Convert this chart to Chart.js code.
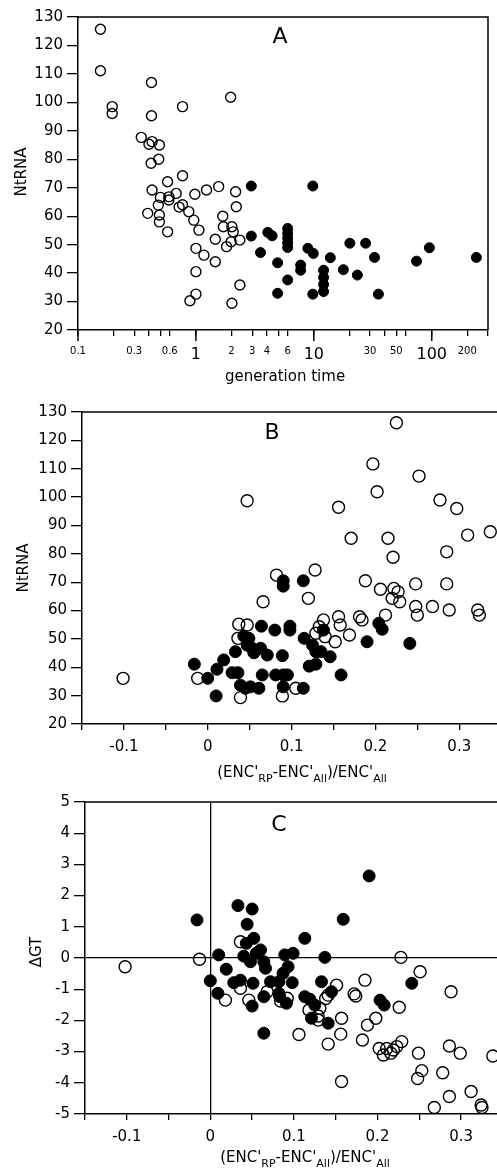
<!DOCTYPE html>
<html>
<head>
<meta charset="utf-8">
<script src="https://cdn.jsdelivr.net/npm/chart.js@4.4.0/dist/chart.umd.min.js"></script>
<style>
  html, body { margin: 0; padding: 0; background: #fff; overflow: hidden; }
  canvas { position: absolute; left: 0; }
</style>
</head>
<body>
<canvas id="panelA" width="497" height="392" style="top:0px"></canvas>
<canvas id="panelB" width="497" height="392" style="top:392px"></canvas>
<canvas id="panelC" width="497" height="387" style="top:784px"></canvas>
<script>
// panel A: generation time vs NtRNA
const aOpenX = [0.155, 0.155, 0.195, 0.195, 0.42, 0.42, 0.77, 1.97, 0.344, 0.40, 0.425, 0.49, 0.417, 0.484,
  0.575, 0.77, 0.425, 1.23, 1.56, 2.17, 0.39, 0.49, 0.49, 0.575, 0.48, 0.59, 0.77, 0.87, 0.96, 1.06,
  1.69, 1.71, 2.02, 2.07, 2.2, 1.46, 1.82, 1.99, 2.36, 1.0, 1.17, 1.46, 1.0, 1.0, 0.89, 2.02, 2.36,
  0.5, 0.59, 0.68, 0.98, 0.72];
const aOpenY = [125.7, 111.1, 98.5, 96.1, 107, 95.3, 98.5, 101.8, 87.7, 85.3, 86.2, 85, 78.6, 80,
  72.1, 74.2, 69.2, 69.2, 70.4, 68.6, 61, 60.4, 58, 54.5, 63.9, 65.7, 64, 61.6, 58.6, 55.1,
  60, 56.3, 56.3, 54.5, 63.3, 51.9, 49.3, 51, 51.6, 48.7, 46.3, 44, 40.5, 32.6, 30.3, 29.4, 35.8,
  66.6, 66.8, 68, 67.7, 63.2];
const aFilledX = [2.95, 9.8, 2.95, 3.53, 4.07, 4.43, 4.93, 4.93, 6, 6, 6, 6, 6, 6, 7.73, 7.73, 8.9, 9.9,
  9.8, 12.1, 12.1, 12.1, 12.1, 13.8, 17.8, 20.2, 23.4, 27.5, 32.7, 35.3, 74.3, 95.5, 239];
const aFilledY = [70.6, 70.6, 53, 47.2, 54.3, 53.1, 43.6, 32.9, 55.7, 54, 52.3, 50.6, 49, 37.6, 42.8, 41, 48.7, 46.9,
  32.6, 41, 38.5, 36, 33.5, 45.4, 41.2, 50.5, 39.3, 50.5, 45.5, 32.6, 44.2, 48.9, 45.5];

// panel B: (ENC'RP-ENC'All)/ENC'All vs NtRNA
const bOpenX = [0.225, 0.197, 0.252, 0.202, 0.047, 0.277, 0.297, 0.156, 0.337, 0.31, 0.171, 0.215, 0.221, 0.285,
  0.128, 0.082, 0.066, 0.12, 0.188, 0.206, 0.222, 0.227, 0.22, 0.229, 0.248, 0.285, 0.248, 0.25, 0.268,
  0.288, 0.322, 0.324, 0.212, 0.156, 0.158, 0.138, 0.133, 0.129, 0.14, 0.152, 0.169, 0.181, 0.184,
  0.037, 0.047, 0.036, -0.012, -0.101, 0.039, 0.089, 0.105];
const bOpenY = [126.2, 111.7, 107.4, 101.9, 98.7, 99, 96, 96.4, 87.8, 86.6, 85.5, 85.5, 78.8, 80.7,
  74.3, 72.5, 63.1, 64.3, 70.5, 67.5, 67.8, 66.6, 64.3, 63.1, 69.4, 69.4, 61.4, 58.4, 61.4,
  60.2, 60.2, 58.4, 58.4, 57.8, 54.9, 56.7, 54.3, 52, 50.8, 49, 51.4, 57.8, 56.7,
  55.2, 54.9, 50.2, 36.1, 36.1, 29.3, 29.9, 32.6];
const bFilledX = [-0.016, 0.0, 0.01, 0.011, 0.019, 0.033, 0.029, 0.036, 0.039, 0.045, 0.051, 0.061, 0.065,
  0.064, 0.08, 0.098, 0.098, 0.09, 0.09, 0.114, 0.043, 0.049, 0.047, 0.053, 0.055, 0.063, 0.071,
  0.089, 0.081, 0.09, 0.095, 0.09, 0.114, 0.115, 0.121, 0.129, 0.125, 0.129, 0.135, 0.138, 0.146,
  0.159, 0.19, 0.204, 0.208, 0.241];
const bFilledY = [41.1, 36.1, 29.9, 39.3, 42.6, 45.5, 38.1, 38.1, 33.7, 32.6, 33.1, 32.6, 37.3,
  54.5, 53.1, 54.5, 53.1, 70.5, 68.6, 70.5, 51, 50.2, 47.8, 46.7, 45.1, 46.7, 44.3,
  44.1, 37.3, 37.3, 37.3, 33.1, 32.6, 50.2, 40.4, 41.1, 47.8, 45.5, 45.5, 53.1, 43.7,
  37.3, 49, 55.5, 53.4, 48.4];

// panel C: (ENC'RP-ENC'All)/ENC'All vs delta GT
const cOpenX = [-0.102, -0.013, 0.036, 0.228, 0.251, 0.288, 0.185, 0.151, 0.172, 0.174, 0.141, 0.138, 0.226,
  0.198, 0.157, 0.188, 0.156, 0.106, 0.182, 0.141, 0.202, 0.207, 0.211, 0.219, 0.223, 0.229, 0.216,
  0.249, 0.253, 0.248, 0.278, 0.286, 0.299, 0.338, 0.286, 0.312, 0.268, 0.324, 0.325, 0.157,
  0.092, 0.084, 0.046, 0.018, 0.036, 0.068, 0.118, 0.129, 0.131, 0.129];
const cOpenY = [-0.28, -0.04, 0.52, 0.02, -0.44, -1.08, -0.71, -0.87, -1.15, -1.22, -1.19, -1.3, -1.58,
  -1.93, -1.93, -2.15, -2.44, -2.45, -2.63, -2.76, -2.9, -3.11, -2.9, -2.95, -2.84, -2.68, -3.05,
  -3.05, -3.61, -3.86, -3.68, -2.82, -3.05, -3.14, -4.44, -4.28, -4.79, -4.71, -4.79, -3.96,
  -1.29, -1.38, -1.35, -1.35, -0.97, -1.08, -1.67, -1.86, -1.61, -1.99];
const cFilledX = [-0.016, 0.033, 0.05, 0.044, 0.052, 0.043, 0.06, 0.113, 0.159, 0.19, 0.01, 0.0, 0.009, 0.019,
  0.028, 0.036, 0.04, 0.048, 0.055, 0.064, 0.066, 0.051, 0.05, 0.064, 0.064, 0.072, 0.082, 0.082,
  0.087, 0.093, 0.089, 0.099, 0.098, 0.091, 0.083, 0.113, 0.119, 0.133, 0.137, 0.121, 0.125, 0.141,
  0.145, 0.203, 0.208, 0.241];
const cFilledY = [1.22, 1.68, 1.57, 1.08, 0.63, 0.47, 0.26, 0.63, 1.24, 2.63, 0.1, -0.73, -1.13, -0.36,
  -0.79, -0.71, 0.06, -0.12, 0.15, -0.12, -0.33, -0.81, -1.54, -1.24, -2.41, -0.76, -0.76, -1.13,
  -0.49, -0.28, 0.1, 0.15, -0.79, -1.45, -1.24, -1.24, -1.32, -0.76, 0.02, -1.93, -1.51, -2.09,
  -1.08, -1.35, -1.51, -0.81];

// ticks
const aXTicks = [0.1, 0.2, 0.3, 0.4, 0.5, 0.6, 1, 2, 3, 4, 5, 6, 10, 20, 30, 40, 50, 60, 100, 200, 300];
const aXLabels = ['0.1', '', '0.3', '', '', '0.6', '1', '2', '3', '4', '', '6', '10', '', '30', '', '50', '', '100', '200', ''];
const aXBigTicks = [1, 10, 100];
const aXLongTicks = [0.1, 1, 10, 100];
const ntrnaTicks = [20, 30, 40, 50, 60, 70, 80, 90, 100, 110, 120, 130];
const encTicks = [-0.15, -0.1, -0.05, 0, 0.05, 0.1, 0.15, 0.2, 0.25, 0.3];
const encLabels = ['', '-0.1', '', '0', '', '0.1', '', '0.2', '', '0.3'];
const gtTicks = [-5, -4, -3, -2, -1, 0, 1, 2, 3, 4, 5];

const encTitle = [["(ENC'", false], ['RP', true], ["-ENC'", false], ['All', true], [")/ENC'", false], ['All', true]];

const FONT = "'DejaVu Sans', sans-serif";

function pts(xs, ys) {
    return xs.map((x, i) => ({ x: x, y: ys[i] }));
}

function datasets(filled, open, r) {
    // filled first so it is drawn on top of the open circles
    return [
        { data: filled, pointRadius: r, pointBackgroundColor: '#000', pointBorderColor: '#000', pointBorderWidth: 1 },
        { data: open, pointRadius: r, pointBackgroundColor: 'rgba(0,0,0,0)', pointBorderColor: '#000', pointBorderWidth: 1.4 }
    ];
}

function drawPieces(ctx, pieces, cx, baseY) {
    const big = '15px ' + FONT, small = '11px ' + FONT;
    let total = 0;
    const widths = pieces.map(([t, sub]) => {
        ctx.font = sub ? small : big;
        const w = ctx.measureText(t).width;
        total += w;
        return w;
    });
    let x = cx - total / 2;
    ctx.textAlign = 'left';
    ctx.textBaseline = 'alphabetic';
    pieces.forEach(([t, sub], i) => {
        ctx.font = sub ? small : big;
        ctx.fillText(t, x, baseY + (sub ? 5 : 0));
        x += widths[i];
    });
}

function decor(o) {
    return {
        id: 'decor',
        afterDraw(chart) {
            const ctx = chart.ctx, a = chart.chartArea;
            ctx.save();
            ctx.strokeStyle = '#000';
            ctx.lineWidth = 1.5;
            ctx.beginPath();
            ctx.moveTo(a.left, a.top);
            ctx.lineTo(a.right, a.top);
            if (o.rightBorder) ctx.lineTo(a.right, a.bottom);
            ctx.stroke();

            if (o.longTicks) {
                o.longTicks.forEach(v => {
                    const x = chart.scales.x.getPixelForValue(v);
                    ctx.beginPath();
                    ctx.moveTo(x, a.bottom);
                    ctx.lineTo(x, a.bottom + 11);
                    ctx.stroke();
                });
            }

            ctx.fillStyle = '#000';
            ctx.font = '22px ' + FONT;
            ctx.textAlign = 'center';
            ctx.textBaseline = 'middle';
            ctx.fillText(o.letter, o.letterX, o.letterY);

            ctx.save();
            ctx.translate(o.yTitleX, o.yTitleY);
            ctx.rotate(-Math.PI / 2);
            ctx.font = '15px ' + FONT;
            ctx.textAlign = 'center';
            ctx.textBaseline = 'middle';
            ctx.fillText(o.yTitle, 0, 0);
            ctx.restore();

            drawPieces(ctx, o.xTitle, o.xTitleX, o.xTitleY);
            ctx.restore();
        }
    };
}

function yScale(min, max, values, width, zeroLine) {
    return {
        type: 'linear',
        min: min,
        max: max,
        afterBuildTicks: s => { s.ticks = values.map(v => ({ value: v })); },
        afterFit: s => { s.width = width; },
        border: { display: true, color: '#000', width: 1.5 },
        grid: {
            drawOnChartArea: !!zeroLine,
            color: c => (zeroLine && c.tick && c.tick.value === 0) ? '#000' : 'rgba(0,0,0,0)',
            tickColor: '#000',
            tickLength: 11,
            lineWidth: 1.3
        },
        ticks: { color: '#000', padding: 4, font: { family: FONT, size: 15 }, autoSkip: false }
    };
}

function encXScale(max, height, zeroLine) {
    return {
        type: 'linear',
        min: -0.15,
        max: max,
        afterBuildTicks: s => { s.ticks = encTicks.map(v => ({ value: v })); },
        afterFit: s => { s.height = height; },
        border: { display: true, color: '#000', width: 1.5 },
        grid: {
            drawOnChartArea: !!zeroLine,
            color: c => (zeroLine && c.tick && c.tick.value === 0) ? '#000' : 'rgba(0,0,0,0)',
            tickColor: '#000',
            tickLength: 6,
            lineWidth: 1.3
        },
        ticks: {
            color: '#000', padding: 8, maxRotation: 0, minRotation: 0, autoSkip: false,
            font: { family: FONT, size: 15 },
            callback: (v, i) => encLabels[i]
        }
    };
}

function baseOptions(padTop, padRight, scales) {
    return {
        responsive: false,
        animation: false,
        layout: { autoPadding: false, padding: { top: padTop, right: padRight, left: 0, bottom: 0 } },
        plugins: { legend: { display: false }, tooltip: { enabled: false } },
        scales: scales
    };
}

// Panel A
new Chart(document.getElementById('panelA'), {
    type: 'scatter',
    data: { datasets: datasets(pts(aFilledX, aFilledY), pts(aOpenX, aOpenY), 5) },
    options: baseOptions(17, 3, {
        x: {
            type: 'logarithmic',
            min: 0.1,
            max: 300,
            afterBuildTicks: s => { s.ticks = aXTicks.map(v => ({ value: v })); },
            afterFit: s => { s.height = 62; },
            border: { display: true, color: '#000', width: 1.5 },
            grid: { drawOnChartArea: false, tickColor: '#000', tickLength: 6, lineWidth: 1.3 },
            ticks: {
                color: '#000', padding: 9, maxRotation: 0, minRotation: 0, autoSkip: false,
                font: c => ({ family: FONT, size: aXBigTicks.includes(c.tick && c.tick.value) ? 16 : 10 }),
                callback: (v, i) => aXLabels[i]
            }
        },
        y: yScale(20, 130, ntrnaTicks, 78, false)
    }),
    plugins: [decor({
        rightBorder: true, longTicks: aXLongTicks,
        letter: 'A', letterX: 280, letterY: 37,
        yTitle: 'NtRNA', yTitleX: 22, yTitleY: 172,
        xTitle: [['generation time', false]], xTitleX: 285, xTitleY: 381
    })]
});

// Panel B
new Chart(document.getElementById('panelB'), {
    type: 'scatter',
    data: { datasets: datasets(pts(bFilledX, bFilledY), pts(bOpenX, bOpenY), 6) },
    options: baseOptions(20, 0, {
        x: encXScale(0.345, 60, false),
        y: yScale(20, 130, ntrnaTicks, 82, false)
    }),
    plugins: [decor({
        rightBorder: false,
        letter: 'B', letterX: 272, letterY: 41,
        yTitle: 'NtRNA', yTitleX: 24, yTitleY: 176,
        xTitle: encTitle, xTitleX: 302, xTitleY: 385
    })]
});

// Panel C
new Chart(document.getElementById('panelC'), {
    type: 'scatter',
    data: { datasets: datasets(pts(cFilledX, cFilledY), pts(cOpenX, cOpenY), 6) },
    options: baseOptions(18, 0, {
        x: encXScale(0.343, 57, true),
        y: yScale(-5, 5, gtTicks, 85, true)
    }),
    plugins: [decor({
        rightBorder: false,
        letter: 'C', letterX: 279, letterY: 41,
        yTitle: '\u0394GT', yTitleX: 37, yTitleY: 168,
        xTitle: encTitle, xTitleX: 305, xTitleY: 378
    })]
});
</script>
</body>
</html>
